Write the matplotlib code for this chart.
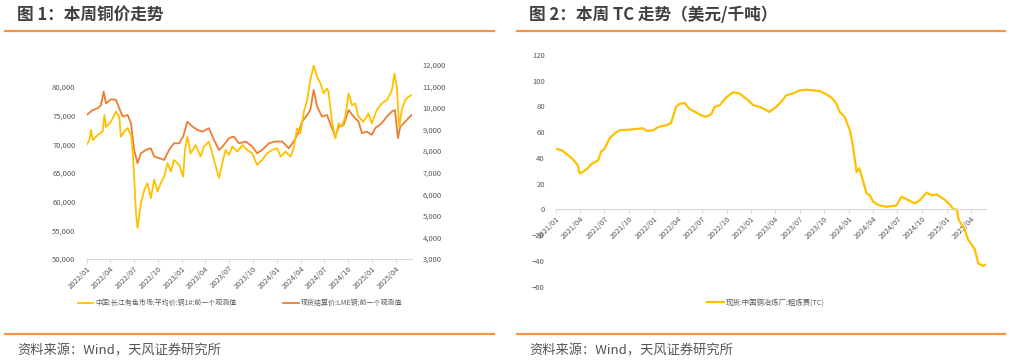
import matplotlib
matplotlib.use("Agg")
import matplotlib.pyplot as plt
import matplotlib.dates as mdates
from matplotlib.ticker import FuncFormatter
import pandas as pd

plt.rcParams['font.family'] = ['Noto Sans CJK SC', 'DejaVu Sans']

# ---- 图1 数据：长江有色 1#铜 (元/吨, 左轴)
cn_dates = ['2022-01-01', '2022-01-11', '2022-01-18', '2022-01-24', '2022-02-12', '2022-03-03',
            '2022-03-10', '2022-03-16', '2022-04-04', '2022-04-23', '2022-05-06', '2022-05-12',
            '2022-05-25', '2022-06-07', '2022-06-20', '2022-06-26', '2022-07-02', '2022-07-09',
            '2022-07-15', '2022-07-28', '2022-08-10', '2022-08-22', '2022-09-04', '2022-09-17',
            '2022-09-30', '2022-10-12', '2022-10-25', '2022-11-07', '2022-11-20', '2022-12-02',
            '2022-12-22', '2023-01-06', '2023-01-13', '2023-01-22', '2023-02-04', '2023-02-23',
            '2023-03-14', '2023-03-27', '2023-04-15', '2023-04-28', '2023-05-11', '2023-05-24',
            '2023-06-05', '2023-06-18', '2023-07-01', '2023-07-14', '2023-08-02', '2023-08-21',
            '2023-09-09', '2023-09-28', '2023-10-17', '2023-11-05', '2023-11-24', '2023-12-14',
            '2024-01-02', '2024-01-15', '2024-02-03', '2024-02-22', '2024-03-05', '2024-03-18',
            '2024-03-31', '2024-04-13', '2024-04-26', '2024-05-08', '2024-05-21', '2024-06-03',
            '2024-06-16', '2024-06-28', '2024-07-11', '2024-07-17', '2024-07-30', '2024-08-12',
            '2024-08-25', '2024-09-06', '2024-09-19', '2024-10-02', '2024-10-15', '2024-10-27',
            '2024-11-09', '2024-11-28', '2024-12-17', '2024-12-30', '2025-01-18', '2025-02-06',
            '2025-02-26', '2025-03-17', '2025-03-27', '2025-04-05', '2025-04-14', '2025-04-24',
            '2025-05-07', '2025-05-19', '2025-06-01']
cn_price = [69900, 70700, 72500, 70700, 71600, 72200,
            75100, 73000, 73900, 75650, 74800, 71300,
            72200, 72800, 71600, 69000, 64400, 58000,
            55400, 59700, 62050, 63200, 60600, 63800,
            61750, 63200, 64350, 66700, 65250, 67250,
            66400, 64350, 69000, 71300, 68400, 69850,
            67850, 69600, 70450, 68400, 66100, 64100,
            66700, 69000, 68150, 69600, 68700, 69850,
            69000, 68400, 66400, 67250, 68400, 69000,
            69300, 67850, 68700, 67850, 69300, 72750,
            71900, 75650, 77700, 81150, 83750, 81700,
            80600, 78850, 79700, 79150, 73900, 71000,
            73650, 73050, 74800, 78850, 76800, 77100,
            74800, 73900, 75350, 73650, 75950, 77100,
            77700, 79400, 82300, 80000, 73050, 75950,
            77700, 78250, 78550]

# ---- 图1 数据：LME 铜现货结算价 (美元/吨, 右轴)
lme_dates = ['2022-01-01', '2022-01-24', '2022-02-12', '2022-02-25', '2022-03-07', '2022-03-16',
             '2022-04-04', '2022-04-23', '2022-05-06', '2022-05-19', '2022-06-07', '2022-06-20',
             '2022-07-02', '2022-07-15', '2022-07-28', '2022-08-16', '2022-09-04', '2022-09-17',
             '2022-10-06', '2022-10-25', '2022-11-13', '2022-12-02', '2022-12-22', '2023-01-06',
             '2023-01-22', '2023-02-11', '2023-03-02', '2023-03-21', '2023-04-15', '2023-05-04',
             '2023-05-24', '2023-06-12', '2023-07-01', '2023-07-20', '2023-08-08', '2023-09-03',
             '2023-09-28', '2023-10-17', '2023-11-05', '2023-12-01', '2023-12-26', '2024-01-21',
             '2024-02-15', '2024-03-05', '2024-03-25', '2024-04-06', '2024-04-26', '2024-05-08',
             '2024-05-21', '2024-06-03', '2024-06-22', '2024-07-11', '2024-07-30', '2024-08-12',
             '2024-08-25', '2024-09-13', '2024-10-02', '2024-10-21', '2024-11-09', '2024-11-22',
             '2024-12-11', '2024-12-30', '2025-01-12', '2025-02-06', '2025-02-26', '2025-03-17',
             '2025-03-29', '2025-04-09', '2025-04-18', '2025-05-07', '2025-05-19', '2025-06-01']
lme_price = [9670, 9900, 9980, 10130, 10750, 10210,
             10400, 10370, 9980, 9600, 9670, 9290,
             8050, 7440, 7900, 8050, 8130, 7750,
             7670, 7590, 8050, 8360, 8360, 8670,
             9360, 9130, 8980, 8900, 9060, 8520,
             8050, 8290, 8600, 8670, 8360, 8440,
             8210, 7900, 8050, 8360, 8440, 8440,
             8130, 8440, 8900, 9360, 9670, 9900,
             10830, 10060, 9600, 9670, 9060, 8670,
             9130, 9210, 9900, 9600, 9360, 8830,
             8900, 8750, 9060, 9290, 9600, 9830,
             9900, 8600, 9130, 9360, 9520, 9670]

# ---- 图2 数据：中国铜冶炼厂粗炼费 TC (美元/千吨)
tc_dates = ['2021-01-01', '2021-01-22', '2021-02-10', '2021-02-22', '2021-03-05', '2021-03-24',
            '2021-03-30', '2021-04-11', '2021-04-30', '2021-05-12', '2021-06-07', '2021-06-19',
            '2021-07-01', '2021-07-20', '2021-08-08', '2021-08-27', '2021-10-04', '2021-11-23',
            '2021-12-05', '2021-12-31', '2022-01-18', '2022-02-18', '2022-03-07', '2022-03-26',
            '2022-04-08', '2022-04-27', '2022-05-15', '2022-06-03', '2022-06-28', '2022-07-16',
            '2022-08-05', '2022-08-17', '2022-09-05', '2022-09-30', '2022-10-25', '2022-11-19',
            '2022-12-01', '2022-12-20', '2023-01-08', '2023-02-03', '2023-02-28', '2023-03-10',
            '2023-04-04', '2023-04-29', '2023-05-11', '2023-06-06', '2023-07-01', '2023-07-26',
            '2023-08-20', '2023-09-14', '2023-10-09', '2023-10-28', '2023-11-16', '2023-11-28',
            '2023-12-17', '2024-01-05', '2024-01-17', '2024-01-30', '2024-02-09', '2024-02-24',
            '2024-03-07', '2024-03-19', '2024-04-01', '2024-04-20', '2024-05-20', '2024-06-27',
            '2024-07-16', '2024-08-10', '2024-09-04', '2024-09-23', '2024-10-18', '2024-11-06',
            '2024-11-25', '2024-12-26', '2025-01-14', '2025-01-26', '2025-02-08', '2025-02-14',
            '2025-03-09', '2025-03-22', '2025-04-16', '2025-04-29', '2025-05-17', '2025-05-27']
tc_value = [47, 46, 43, 41, 39, 34,
            28, 29, 32, 35, 38, 45,
            47, 55, 59, 61.5, 62, 63,
            61, 61.5, 64, 65.4, 67, 79.6,
            82, 82.7, 78, 76, 73, 72,
            74, 79.6, 81, 87, 91, 90,
            88, 85, 81, 79.6, 77, 75.7,
            79.6, 85, 88.6, 90, 92.5, 93,
            92.5, 92, 89.4, 87, 82, 75.7,
            71.8, 61.5, 48.6, 29, 32, 21.4,
            12.4, 11, 6, 3.4, 2, 3,
            9.8, 7.2, 4.6, 7.2, 13, 11,
            11.6, 7.2, 3.4, 0, 0, -7.8,
            -15.7, -23.5, -31, -42, -44, -43]

YELLOW = '#FFC000'
ORANGE = '#ED7D31'
RULE = '#F7963F'
TXT = '#404040'
TICK = '#595959'

W, H = 1011, 362
fig = plt.figure(figsize=(W / 100, H / 100), dpi=100)


def px_axes(x0, y_top, x1, y_bot):
    return fig.add_axes([x0 / W, 1 - y_bot / H, (x1 - x0) / W, (y_bot - y_top) / H])


def style_axes(ax):
    for s in ('top', 'left', 'right'):
        ax.spines[s].set_visible(False)
    ax.spines['bottom'].set_color('#D9D9D9')
    ax.spines['bottom'].set_linewidth(0.8)
    ax.tick_params(axis='y', length=0, labelsize=5.5, labelcolor=TICK, pad=8)
    ax.tick_params(axis='x', length=3, color='#D9D9D9', labelsize=5.5, labelcolor=TICK,
                   pad=1, labelrotation=45)
    ax.xaxis.set_major_locator(mdates.MonthLocator(bymonth=[1, 4, 7, 10]))
    ax.xaxis.set_major_formatter(mdates.DateFormatter('%Y/%m'))


def finish_xlabels(ax):
    for lab in ax.get_xticklabels():
        lab.set_ha('right')
        lab.set_rotation_mode('anchor')


thousands = FuncFormatter(lambda v, p: f'{v:,.0f}')

# ---------------- 图1 ----------------
ax1 = px_axes(86.7, 64.7, 411.7, 259)
ax1b = ax1.twinx()
ax1.plot(pd.to_datetime(cn_dates), cn_price, color=YELLOW, lw=1.3,
         label='中国:长江有色市场:平均价:铜1#:前一个观测值')
ax1b.plot(pd.to_datetime(lme_dates), lme_price, color=ORANGE, lw=1.3,
          label='现货结算价:LME铜:前一个观测值')
ax1.set_ylim(50000, 83850)
ax1.set_yticks(range(50000, 80001, 5000))
ax1.yaxis.set_major_formatter(thousands)
ax1b.set_ylim(3000, 12000)
ax1b.set_yticks(range(3000, 12001, 1000))
ax1b.yaxis.set_major_formatter(thousands)
ax1.set_xlim(pd.Timestamp('2022-01-01'), pd.Timestamp('2025-06-01'))
style_axes(ax1)
style_axes(ax1b)
ax1b.spines['bottom'].set_visible(False)
ax1.set_zorder(ax1b.get_zorder() + 1)
ax1.patch.set_visible(False)
finish_xlabels(ax1)

h1, l1 = ax1.get_legend_handles_labels()
h2, l2 = ax1b.get_legend_handles_labels()
fig.legend(h1 + h2, l1 + l2, ncol=2, frameon=False, loc='center',
           bbox_to_anchor=(240 / W, 1 - 303 / H), fontsize=5, handlelength=2.2,
           handletextpad=0.3, columnspacing=6.8, labelcolor=TICK)

# ---------------- 图2 ----------------
ax2 = px_axes(556, 55, 986, 286.5)
ax2.spines['bottom'].set_position(('data', 0))
ax2.plot(pd.to_datetime(tc_dates), tc_value, color=YELLOW, lw=1.6,
         label='现货:中国铜冶炼厂:粗炼费(TC)')
ax2.set_ylim(-60, 120)
ax2.set_yticks(range(-60, 121, 20))
ax2.set_xlim(pd.Timestamp('2021-01-01'), pd.Timestamp('2025-05-28'))
style_axes(ax2)
finish_xlabels(ax2)
fig.legend(loc='center', bbox_to_anchor=(766 / W, 1 - 303 / H), frameon=False,
           fontsize=5.3, handlelength=2.2, handletextpad=0.3, labelcolor=TICK,
           handles=ax2.get_lines(), labels=[ax2.get_lines()[0].get_label()])

# ---------------- 标题、分隔线、来源 ----------------
for x0, x1, title, tx in [(5, 494, '图 1：本周铜价走势', 17),
                          (517, 1005, '图 2：本周 TC 走势（美元/千吨）', 529)]:
    for y in (31, 334):
        fig.add_artist(plt.Line2D([x0 / W, x1 / W], [1 - y / H, 1 - y / H],
                                  color=RULE, lw=1.6, transform=fig.transFigure))
    fig.text(tx / W, 1 - 15 / H, title, fontsize=12, color=TXT, va='center',
             fontweight='bold')
    fig.text(tx / W, 1 - 350.5 / H, '资料来源：Wind，天风证券研究所', fontsize=9.5,
             color='#555555', va='center')

fig.savefig('out.png', dpi=100)
